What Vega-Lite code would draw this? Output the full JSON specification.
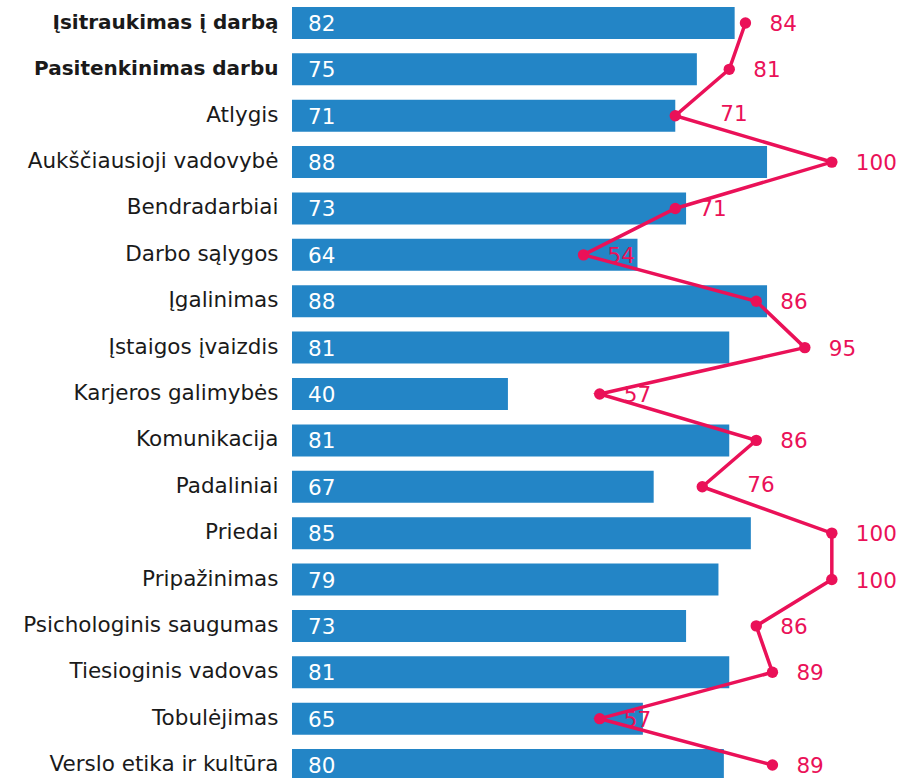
{
  "$schema": "https://vega.github.io/schema/vega-lite/v6.json",
  "width": 610,
  "height": 788,
  "autosize": "none",
  "padding": {"left": 292, "top": 0, "right": 0, "bottom": 0},
  "background": "white",
  "config": {"view": {"stroke": null}, "font": "DejaVu Sans"},
  "data": {"values": [
    {"cat": "Įsitraukimas į darbą", "bar": 82, "line": 84},
    {"cat": "Pasitenkinimas darbu", "bar": 75, "line": 81},
    {"cat": "Atlygis", "bar": 71, "line": 71},
    {"cat": "Aukščiausioji vadovybė", "bar": 88, "line": 100},
    {"cat": "Bendradarbiai", "bar": 73, "line": 71},
    {"cat": "Darbo sąlygos", "bar": 64, "line": 54},
    {"cat": "Įgalinimas", "bar": 88, "line": 86},
    {"cat": "Įstaigos įvaizdis", "bar": 81, "line": 95},
    {"cat": "Karjeros galimybės", "bar": 40, "line": 57},
    {"cat": "Komunikacija", "bar": 81, "line": 86},
    {"cat": "Padaliniai", "bar": 67, "line": 76},
    {"cat": "Priedai", "bar": 85, "line": 100},
    {"cat": "Pripažinimas", "bar": 79, "line": 100},
    {"cat": "Psichologinis saugumas", "bar": 73, "line": 86},
    {"cat": "Tiesioginis vadovas", "bar": 81, "line": 89},
    {"cat": "Tobulėjimas", "bar": 65, "line": 57},
    {"cat": "Verslo etika ir kultūra", "bar": 80, "line": 89}
  ]},
  "encoding": {
    "y": {
      "field": "cat", "type": "nominal", "sort": null,
      "scale": {"paddingInner": 0.31, "paddingOuter": 0.15},
      "axis": {
        "title": null, "domain": false, "ticks": false, "labelPadding": 14,
        "labelColor": "#1a1a1a", "labelFont": "DejaVu Sans",
        "labelFontSize": {"condition": {"test": "datum.value == 'Įsitraukimas į darbą' || datum.value == 'Pasitenkinimas darbu'", "value": 20}, "value": 21.5},
        "labelFontWeight": {"condition": {"test": "datum.value == 'Įsitraukimas į darbą' || datum.value == 'Pasitenkinimas darbu'", "value": "bold"}, "value": "normal"},
        "labelLimit": 400
      }
    }
  },
  "layer": [
    {
      "mark": {"type": "bar", "color": "#2385c6"},
      "encoding": {
        "x": {"field": "bar", "type": "quantitative", "scale": {"domain": [0, 113], "nice": false}, "axis": null}
      }
    },
    {
      "mark": {"type": "text", "color": "white", "align": "left", "baseline": "middle", "dx": 16, "dy": 2, "fontSize": 21.5},
      "encoding": {
        "x": {"datum": 0, "type": "quantitative"},
        "text": {"field": "bar", "type": "quantitative"}
      }
    },
    {
      "mark": {"type": "line", "color": "#ea1158", "strokeWidth": 3.5},
      "encoding": {
        "x": {"field": "line", "type": "quantitative"},
        "order": {"value": null}
      }
    },
    {
      "mark": {"type": "point", "filled": true, "opacity": 1, "color": "#ea1158", "size": 130},
      "encoding": {
        "x": {"field": "line", "type": "quantitative"}
      }
    },
    {
      "transform": [{"filter": "datum.cat != 'Atlygis' && datum.cat != 'Padaliniai'"}],
      "mark": {"type": "text", "color": "#ea1158", "align": "left", "baseline": "middle", "dx": 24, "dy": 2, "fontSize": 21.5},
      "encoding": {
        "x": {"field": "line", "type": "quantitative"},
        "text": {"field": "line", "type": "quantitative"}
      }
    },
    {
      "transform": [{"filter": "datum.cat == 'Atlygis' || datum.cat == 'Padaliniai'"}],
      "mark": {"type": "text", "color": "#ea1158", "align": "left", "baseline": "middle", "dx": 45, "dy": -1, "fontSize": 21.5},
      "encoding": {
        "x": {"field": "line", "type": "quantitative"},
        "text": {"field": "line", "type": "quantitative"}
      }
    }
  ]
}
